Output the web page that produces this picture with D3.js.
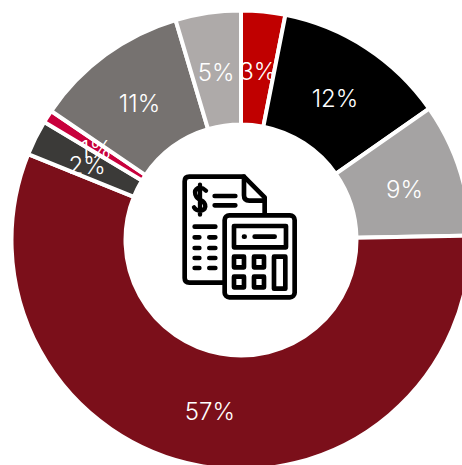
<!DOCTYPE html>
<html><head><meta charset="utf-8">
<script src="https://cdn.jsdelivr.net/npm/d3@7"></script>
<style>html,body{margin:0;padding:0;background:#fff;overflow:hidden}svg{display:block}</style>
</head><body><svg id="c" width="462" height="465"></svg>
<script>
const categories = ["A","B","C","D","E","F","G","H"];
const values = [3.1,12.2,9.4,56.4,2.5,0.9,10.9,4.6];
const labels = ["3%","12%","9%","57%","2%","1%","11%","5%"];
const colors = ["#c00000","#000000","#a5a3a3","#7b0f1a","#3b3a38","#c8003c","#767270","#aeaaa9"];

const svg = d3.select("#c");
const g = svg.append("g").attr("transform","translate(241,240)");
const pie = d3.pie().value(d=>d).sort(null)(values);
const arc = d3.arc().innerRadius(115.5).outerRadius(229.5);
const labelArc = d3.arc().innerRadius(172).outerRadius(172);
g.selectAll("path.s").data(pie).join("path").attr("class","s")
  .attr("d",arc).attr("fill",(d,i)=>colors[i]).attr("stroke","#fff").attr("stroke-width",4);
g.selectAll("text").data(pie).join("text")
  .attr("transform",d=>`translate(${labelArc.centroid(d)})`)
  .attr("text-anchor","middle").attr("dy","0.46em")
  .attr("font-family","Inter").attr("font-size",24).attr("font-weight",300)
  .attr("fill","#fff").text((d,i)=>labels[i]);

// central icon, drawn in a local 140x150 box
const ic = svg.append("g").attr("transform","translate(170,160) scale(0.3333)")
  .attr("fill","none").attr("stroke","#000").attr("stroke-width",14)
  .attr("stroke-linecap","round").attr("stroke-linejoin","round");
ic.append("path").attr("d","M160 368H58Q44 368 44 354V64Q44 50 58 50H222L284 112V160");
ic.append("path").attr("d","M222 50V106Q222 122 238 122H284");
ic.append("path").attr("stroke-width",13).attr("d","M108 92Q96 80 84 84Q72 90 76 104Q80 116 92 120Q106 126 106 140Q104 152 90 152Q78 152 72 142M90 74V164");
ic.append("path").attr("d","M134 108H196M134 136H196M74 200H136M74 232H88M118 232H136M74 264H88M118 264H136M74 294H88M118 294H136M74 324H88M118 324H136");
ic.append("rect").attr("x",164).attr("y",166).attr("width",210).attr("height",246).attr("rx",14).attr("fill","#fff");
ic.append("rect").attr("x",192).attr("y",198).attr("width",156).attr("height",64);
ic.append("path").attr("d","M222 230H224M254 230H314");
[[192,290],[252,290],[192,350],[252,350]].forEach(([x,y])=>
  ic.append("rect").attr("x",x).attr("y",y).attr("width",30).attr("height",32));
ic.append("rect").attr("x",312).attr("y",290).attr("width",34).attr("height",96);
</script></body></html>
